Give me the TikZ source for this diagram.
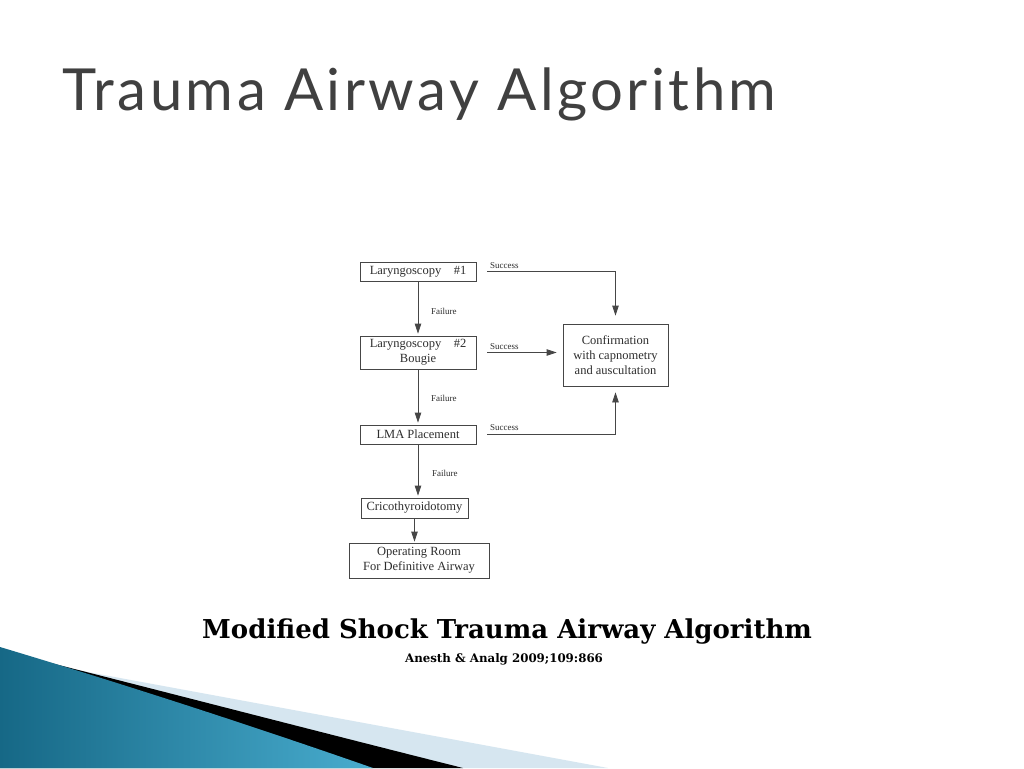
\documentclass[tikz,border=0pt]{standalone}
\usepackage{fontspec}
\setmainfont{Liberation Serif}
\newfontfamily\headfont[LetterSpace=6]{Lato}
\newfontfamily\capfont{DejaVu Serif}
\usetikzlibrary{arrows.meta}
\definecolor{boxline}{RGB}{70,70,70}
\definecolor{boxtext}{RGB}{45,45,45}
\definecolor{headgray}{RGB}{64,64,64}
\definecolor{teal1}{RGB}{22,104,134}
\definecolor{teal2}{RGB}{72,172,206}
\definecolor{paleblue}{RGB}{214,230,240}
\tikzset{
  stagebox/.style={draw=boxline, line width=0.8pt, text=boxtext, inner sep=0pt,
    align=center, font=\fontsize{12.5}{15}\selectfont},
  flowlabel/.style={text=boxtext, inner sep=0pt, font=\fontsize{9}{10}\selectfont},
  flowline/.style={->, draw=boxline, line width=0.8pt}
}
\begin{document}
\begin{tikzpicture}[x=1pt, y=-1pt, >={Triangle[length=10pt,width=6.5pt]}]
        \useasboundingbox (0,0) rectangle (1024,768);
        \fill[white] (0,0) rectangle (1024,768);

        % Slide heading
        \node[anchor=base west, inner sep=0pt, text=headgray,
              font=\headfont\fontsize{58}{60}\selectfont] (heading) at (62,110) {Trauma Airway Algorithm};

        % Steps down the left
        \node[stagebox, minimum width=116pt, minimum height=19pt] (lar1) at (418,271.5) {Laryngoscopy\quad \#1};
        \node[stagebox, minimum width=116pt, minimum height=33pt] (lar2) at (418,352.5) {Laryngoscopy\quad \#2\\Bougie};
        \node[stagebox, minimum width=116pt, minimum height=19pt] (lma) at (418,434.5) {LMA Placement};
        \node[stagebox, minimum width=107pt, minimum height=20pt] (crico) at (414.5,508) {Cricothyroidotomy};
        \node[stagebox, minimum width=140pt, minimum height=35pt] (oproom) at (419,560.5) {Operating Room\\For Definitive Airway};

        % Confirmation box on the right
        \node[stagebox, minimum width=105pt, minimum height=62pt] (confirm) at (615.5,355) {Confirmation\\with capnometry\\and auscultation};

        % Failure path
        \draw[flowline, shorten >=2pt] (lar1) -- (lar2);
        \draw[flowline, shorten >=2pt] (lar2) -- (lma);
        \draw[flowline, shorten >=2pt] (lma) -- (lma |- crico.north);
        \draw[flowline, shorten >=1pt] (crico) -- (crico |- oproom.north);
        \node[flowlabel, anchor=west] (fail1) at (431,311) {Failure};
        \node[flowlabel, anchor=west] (fail2) at (431,398) {Failure};
        \node[flowlabel, anchor=west] (fail3) at (432,473) {Failure};

        % Success paths
        \draw[flowline, shorten <=11pt, shorten >=8pt] (lar1.east) -| (confirm.north);
        \draw[flowline, shorten <=11pt, shorten >=6pt] (lar2.east) -- (confirm.west |- lar2.east);
        \draw[flowline, shorten <=11pt, shorten >=6pt] (lma.east) -| (confirm.south);
        \node[flowlabel, anchor=west] (succ1) at (490,266) {Success};
        \node[flowlabel, anchor=west] (succ2) at (490,347) {Success};
        \node[flowlabel, anchor=west] (succ3) at (490,428) {Success};

        % Caption under the chart
        \node[anchor=base west, inner sep=0pt, font=\capfont\bfseries\fontsize{26}{28}\selectfont] (caption) at (202,638) {Modified Shock Trauma Airway Algorithm};
        \node[anchor=base, inner sep=0pt, font=\capfont\bfseries\fontsize{11.8}{13}\selectfont] (source) at (504,662) {Anesth \& Analg 2009;109:866};

        % Swoosh in the lower left corner
        \fill[paleblue] (55,666) -- (608,768) -- (0,768) -- cycle;
        \fill[black] (35,659) .. controls (150,688) and (300,727) .. (463,768) -- (0,768) -- (0,650) -- cycle;
        \shade[left color=teal1, right color=teal2] (0,647) .. controls (120,683) and (250,725) .. (373,768) -- (0,768) -- cycle;
    \end{tikzpicture}
\end{document}
